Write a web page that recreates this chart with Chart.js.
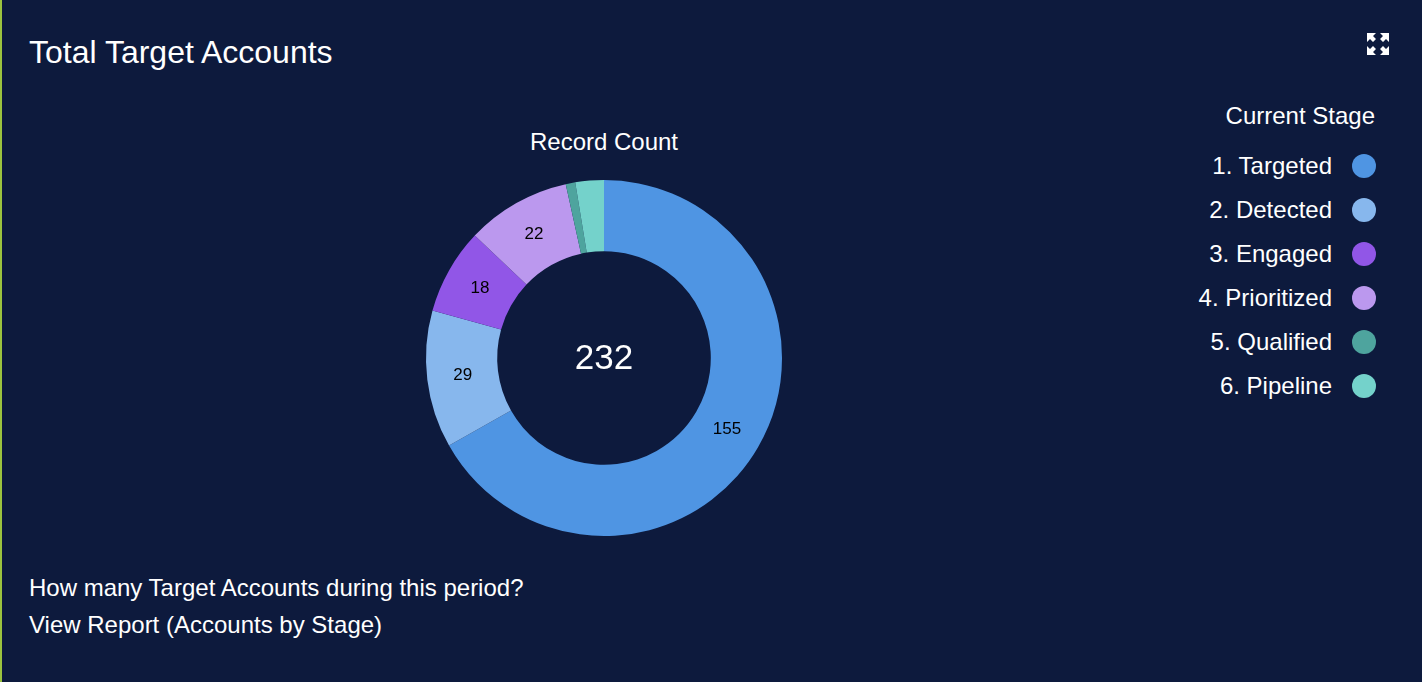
<!DOCTYPE html>
<html>
<head>
<meta charset="utf-8">
<script src="https://cdn.jsdelivr.net/npm/chart.js@4/dist/chart.umd.min.js"></script>
<style>
  html, body { margin: 0; padding: 0; }
  body {
    width: 1422px; height: 682px; overflow: hidden; position: relative;
    background: #0d1a3d; color: #fff;
    font-family: "Liberation Sans", Arial, Helvetica, sans-serif;
  }
  #edge { position: absolute; left: 0; top: 0; width: 2px; height: 682px; background: #9bc33f; }
  #titulo { position: absolute; left: 29px; top: 33px; font-size: 32px; line-height: 38px; white-space: nowrap; }
  #subtitulo { position: absolute; left: 404px; width: 400px; top: 128px; text-align: center; font-size: 24px; line-height: 28px; }
  #grafico { position: absolute; left: 404px; top: 158px; width: 400px; height: 400px; }
  #leyenda { position: absolute; right: 46px; top: 100px; text-align: right; font-size: 24px; }
  #leyenda .cab { height: 32px; line-height: 32px; margin-bottom: 12px; margin-right: 1px; }
  #leyenda .fila { height: 44px; display: flex; align-items: center; justify-content: flex-end; }
  #leyenda .fila span.p { display: inline-block; width: 24px; height: 24px; border-radius: 50%; margin-left: 20px; }
  #pie { position: absolute; left: 29px; top: 569px; font-size: 24px; line-height: 37px; white-space: nowrap; }
  #icono { position: absolute; left: 1367px; top: 33px; }
</style>
</head>
<body>
<div id="edge"></div>
<div id="titulo">Total Target Accounts</div>
<svg id="icono" width="22" height="22" viewBox="0 0 22 22">
  <g fill="#fff">
    <polygon points="0,0 9,0 6,3 9,6 6,9 3,6 0,9"/>
    <polygon points="22,0 13,0 16,3 13,6 16,9 19,6 22,9"/>
    <polygon points="0,22 9,22 6,19 9,16 6,13 3,16 0,13"/>
    <polygon points="22,22 13,22 16,19 13,16 16,13 19,16 22,13"/>
  </g>
</svg>
<div id="subtitulo">Record Count</div>
<canvas id="grafico" width="400" height="400"></canvas>
<div id="leyenda"></div>
<div id="pie">How many Target Accounts during this period?<br>View Report (Accounts by Stage)</div>

<script>
const etapas = ["1. Targeted", "2. Detected", "3. Engaged", "4. Prioritized", "5. Qualified", "6. Pipeline"];
const cuentas = [155, 29, 18, 22, 2, 6];
const colores = ["#4f95e3", "#87b7ed", "#9156e7", "#bb98ee", "#4ea49e", "#74d2cb"];
const tituloLeyenda = "Current Stage";

const total = cuentas.reduce((a, b) => a + b, 0);

// leyenda html a partir de los arreglos
const leyenda = document.querySelector("#leyenda");
leyenda.innerHTML = `<div class="cab">${tituloLeyenda}</div>` +
  etapas.map((e, i) => `<div class="fila"><span>${e}</span><span class="p" style="background:${colores[i]}"></span></div>`).join("");

// etiquetas dentro de cada porcion + total al centro
const etiquetas = {
  id: "etiquetas",
  afterDatasetsDraw(chart) {
    const ctx = chart.ctx;
    const meta = chart.getDatasetMeta(0);
    ctx.save();
    ctx.textAlign = "center";
    ctx.textBaseline = "middle";
    ctx.fillStyle = "#000";
    ctx.font = '17px "Liberation Sans", Arial, sans-serif';
    meta.data.forEach((arc, i) => {
      if (cuentas[i] < 10) return; // porciones chicas sin etiqueta
      const pos = arc.tooltipPosition();
      ctx.fillText(String(cuentas[i]), pos.x, pos.y);
    });
    const c = meta.data[0];
    ctx.fillStyle = "#fff";
    ctx.font = '35px "Liberation Sans", Arial, sans-serif';
    ctx.fillText(String(total), c.x, c.y + 1);
    ctx.restore();
  }
};

const chart = document.querySelector("#grafico");
const myChart = new Chart(chart, {
  type: "doughnut",
  data: {
    labels: etapas,
    datasets: [{
      data: cuentas,
      backgroundColor: colores,
      borderWidth: 0
    }]
  },
  options: {
    responsive: false,
    animation: false,
    events: [],
    cutout: "60%",
    layout: { padding: 22 },
    plugins: {
      legend: { display: false },
      tooltip: { enabled: false }
    }
  },
  plugins: [etiquetas]
});
</script>
</body>
</html>
